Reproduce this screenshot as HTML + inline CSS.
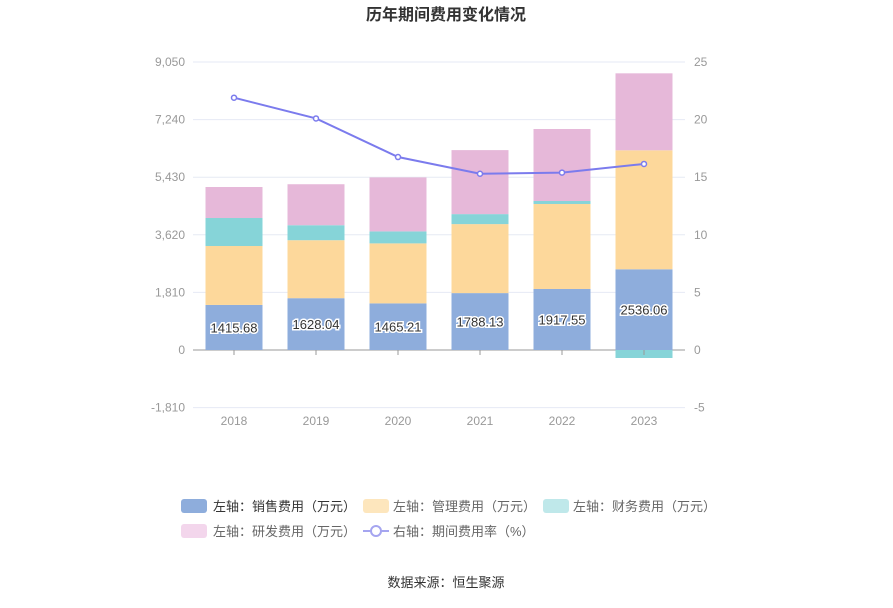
<!DOCTYPE html>
<html><head><meta charset="utf-8"><style>
body{margin:0;background:#fff;font-family:"Liberation Sans","Noto Sans CJK SC",sans-serif}
svg text{font-family:"Liberation Sans","Noto Sans CJK SC",sans-serif}
</style></head><body>
<svg id="c" width="893" height="603" xmlns="http://www.w3.org/2000/svg">
<text x="446" y="20" text-anchor="middle" font-size="16" font-weight="bold" fill="#333">历年期间费用变化情况</text>
<g id="grid"></g><g id="bars"></g><g id="line"></g><g id="axes"></g>
<g id="legend" font-size="13" fill="#666">
<g><rect x="181" y="499" width="26" height="14" rx="3" fill="#8eaddc"/><text x="213" y="511" fill="#333">左轴：销售费用（万元）</text></g>
<g><rect x="363" y="499" width="26" height="14" rx="3" fill="#fde6bd"/><text x="393" y="511">左轴：管理费用（万元）</text></g>
<g><rect x="543" y="499" width="26" height="14" rx="3" fill="#bfe8ea"/><text x="573" y="511">左轴：财务费用（万元）</text></g>
<g><rect x="181" y="524" width="26" height="14" rx="3" fill="#f3d6ec"/><text x="213" y="536">左轴：研发费用（万元）</text></g>
<g><line x1="363" y1="531" x2="389" y2="531" stroke="#a5a5f0" stroke-width="2"/><circle cx="376" cy="531" r="5" fill="#fff" stroke="#a5a5f0" stroke-width="2"/><text x="393" y="536">右轴：期间费用率（%）</text></g>
</g>
<text x="446" y="587" text-anchor="middle" font-size="13" fill="#333">数据来源：恒生聚源</text>
</svg>
<script>
const years=["2018","2019","2020","2021","2022","2023"];
const sales=[1415.68,1628.04,1465.21,1788.13,1917.55,2536.06];
const mgmt=[1852,1822,1885,2168,2671,3739];
const finance=[880,471,377,314,94,-251];
const rd=[974,1288,1697,2011,2262,2419];
const rate=[21.9,20.1,16.75,15.3,15.4,16.15];
const leftTicks=[-1810,0,1810,3620,5430,7240,9050];
const rightTicks=[-5,0,5,10,15,20,25];
const NS="http://www.w3.org/2000/svg";
const x0=193,x1=685,bw=57,step=(x1-x0)/years.length;
const yL=v=>350-v*288/9050, yR=v=>350-v*288/25, xc=i=>x0+step*(i+0.5);
function mk(t,a,p){const e=document.createElementNS(NS,t);for(const k in a)e.setAttribute(k,a[k]);document.getElementById(p).appendChild(e);return e;}
leftTicks.forEach((t,i)=>{const y=yL(t);
 const g=mk("line",{x1:x0,x2:x1,y1:y,y2:y,stroke:t===0?"#999":"#e6eaf4","stroke-width":1},"grid");
 
 
 const l=mk("text",{x:185,y:y+4,"text-anchor":"end","font-size":12,fill:"#999"},"axes");l.textContent=t.toLocaleString("en-US");
 
 
});
rightTicks.forEach(t=>{const l=mk("text",{x:694,y:yR(t)+4,"font-size":12,fill:"#999"},"axes");l.textContent=t;
 
 });
years.forEach((yr,i)=>{
 const l=mk("text",{x:xc(i),y:425,"text-anchor":"middle","font-size":12,fill:"#999"},"axes");l.textContent=yr;
 
 
 const tk=mk("line",{x1:xc(i),x2:xc(i),y1:350,y2:355,stroke:"#999"},"axes");
 
 
 let pos=0,neg=0;
 [[sales,"#8eaddc","bar-sales"],[mgmt,"#fdd89b","bar-management"],[finance,"#86d4d8","bar-finance"],[rd,"#e6b8d9","bar-rd"]].forEach(([arr,c,n])=>{
  const v=arr[i];let a,b;
  if(v>=0){a=pos;b=pos+v;pos=b;}else{a=neg+v;b=neg;neg=a;}
  const r=mk("rect",{x:xc(i)-bw/2,y:yL(b),width:bw,height:yL(a)-yL(b),fill:c},"bars");
  
  
 });
 const t=mk("text",{x:xc(i),y:yL(sales[i]/2)+5,"text-anchor":"middle","font-size":13,fill:"#333",stroke:"#fff","stroke-width":3,"paint-order":"stroke"},"bars");
 t.textContent=sales[i].toFixed(2);
 
 
});
const pl=mk("polyline",{points:rate.map((v,i)=>xc(i)+","+yR(v)).join(" "),fill:"none",stroke:"#7b7bed","stroke-width":2},"line");


rate.forEach((v,i)=>{const c=mk("circle",{cx:xc(i),cy:yR(v),r:2.5,fill:"#fff",stroke:"#7b7bed","stroke-width":1.5},"line");
 
 });
</script>
</body></html>
